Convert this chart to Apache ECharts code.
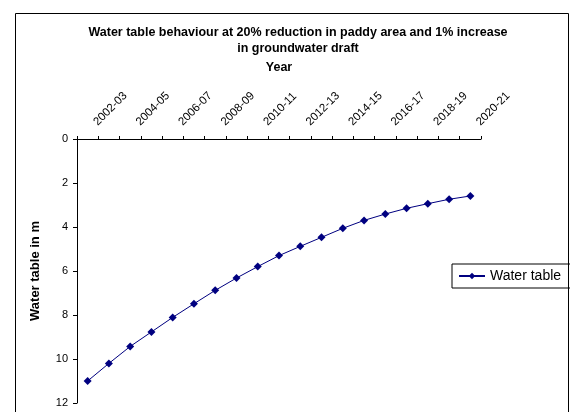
<!DOCTYPE html>
<html>
<head>
<meta charset="utf-8">
<script src="https://cdn.jsdelivr.net/npm/echarts@6/dist/echarts.min.js"></script>
<style>
  html, body { margin: 0; padding: 0; background: #fff; }
  #chart { width: 570px; height: 412px; }
</style>
</head>
<body>
<div id="chart"></div>
<script>
// Hydrological years shown along the top axis
const years = [
  '2002-03', '2003-04', '2004-05', '2005-06', '2006-07', '2007-08', '2008-09',
  '2009-10', '2010-11', '2011-12', '2012-13', '2013-14', '2014-15', '2015-16',
  '2016-17', '2017-18', '2018-19', '2019-20', '2020-21'
];
// Depth to water table (m below ground)
const waterTable = [
  11.0, 10.2, 9.43, 8.77, 8.11, 7.49, 6.88, 6.32, 5.80, 5.30,
  4.88, 4.47, 4.06, 3.70, 3.41, 3.15, 2.94, 2.74, 2.59
];
const depthTicks = [0, 2, 4, 6, 8, 10, 12];

const chart = echarts.init(document.getElementById('chart'));
const font = 'Arial, "Liberation Sans", sans-serif';

chart.setOption({
  backgroundColor: '#fff',
  animation: false,
  title: {
    text: 'Water table behaviour at 20% reduction in paddy area and 1% increase\nin groundwater draft',
    left: 293,
    textAlign: 'center',
    top: 20,
    textStyle: { fontFamily: font, fontSize: 12.5, fontWeight: 'bold', color: '#000', lineHeight: 16 }
  },
  legend: {
    data: ['Water table'],
    left: 452,
    top: 264,
    orient: 'vertical',
    padding: [5, 20, 5, 6],
    borderColor: '#000',
    borderWidth: 1,
    itemWidth: 26,
    itemHeight: 8,
    itemGap: 0,
    textStyle: { fontFamily: font, fontSize: 14, color: '#000' }
  },
  graphic: [{
    type: 'rect',
    shape: { x: 15.5, y: 13.5, width: 553, height: 430 },
    style: { fill: 'none', stroke: '#000', lineWidth: 1 },
    silent: true,
    z: -1
  }],
  grid: { left: 77, top: 139, right: 89, bottom: 9 },
  xAxis: {
    type: 'category',
    position: 'top',
    data: years,
    boundaryGap: true,
    name: 'Year',
    nameLocation: 'middle',
    nameGap: 65,
    nameMoveOverlap: false,
    nameTextStyle: { fontFamily: font, fontSize: 12.5, fontWeight: 'bold', color: '#000' },
    axisLine: { lineStyle: { color: '#000', width: 1 } },
    axisTick: { show: true, interval: 0, length: 3, lineStyle: { color: '#000' } },
    axisLabel: {
      interval: 1,
      rotate: 45,
      align: 'left',
      verticalAlign: 'bottom',
      margin: -1,
      padding: [0, 0, 0, 17],
      fontFamily: font,
      fontSize: 11.5,
      color: '#000'
    },
    splitLine: { show: false }
  },
  yAxis: {
    type: 'value',
    inverse: true,
    min: depthTicks[0],
    max: depthTicks[depthTicks.length - 1],
    interval: depthTicks[1] - depthTicks[0],
    name: 'Water table in m',
    nameLocation: 'middle',
    nameGap: 35,
    nameTextStyle: { fontFamily: font, fontSize: 13, fontWeight: 'bold', color: '#000' },
    axisLine: { show: true, lineStyle: { color: '#000', width: 1 } },
    axisTick: { show: true, length: 4, lineStyle: { color: '#000' } },
    axisLabel: { fontFamily: font, fontSize: 11, color: '#000', margin: 9 },
    splitLine: { show: false }
  },
  series: [{
    name: 'Water table',
    type: 'line',
    data: waterTable,
    symbol: 'diamond',
    symbolSize: 8,
    lineStyle: { color: '#000080', width: 1 },
    itemStyle: { color: '#000080' }
  }]
});
</script>
</body>
</html>
